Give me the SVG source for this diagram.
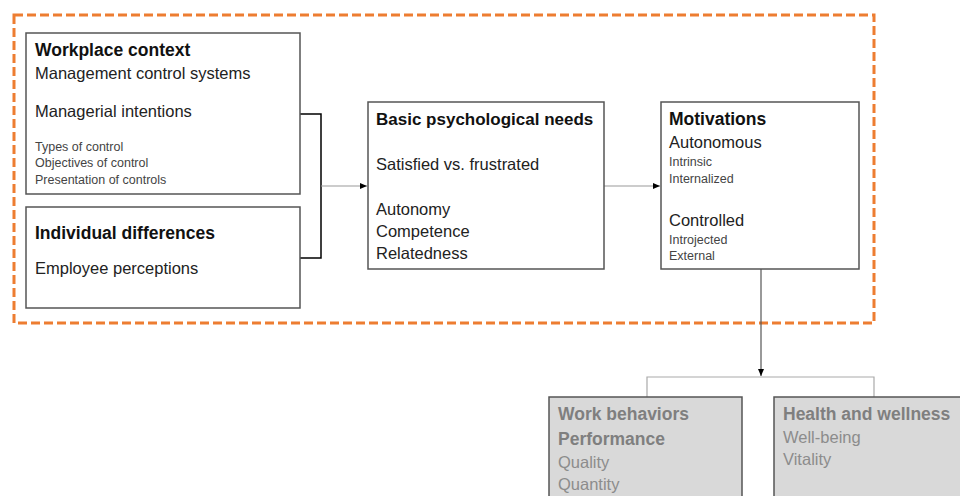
<svg xmlns="http://www.w3.org/2000/svg" width="960" height="496" viewBox="0 0 960 496">
<defs>
<marker id="ah" markerWidth="8" markerHeight="8" refX="7" refY="4" orient="auto" markerUnits="userSpaceOnUse">
<path d="M0,1 L7,4 L0,7 Z" fill="#000"/>
</marker>
<style>
text{font-family:"Liberation Sans",Arial,sans-serif;}
.box{fill:#fff;stroke:#555;stroke-width:1.5;}
.gbox{fill:#d9d9d9;stroke:#555;stroke-width:1.5;}
.h{font-size:17.5px;font-weight:bold;fill:#111;}
.m{font-size:16.5px;fill:#222;}
.s{font-size:12.5px;fill:#444;}
.gh{font-size:17.5px;font-weight:bold;fill:#7f7f7f;}
.gm{font-size:16.5px;fill:#8c8c8c;}
</style>
</defs>
<rect x="14" y="15" width="860" height="308" fill="none" stroke="#ed7d31" stroke-width="3" stroke-dasharray="9,4"/>
<g id="connectors" fill="none">
<polyline points="300,114 321,114 321,258 300,258" stroke="#000" stroke-width="1.5"/>
<line x1="321" y1="186" x2="367" y2="186" stroke="#999" stroke-width="1.2" marker-end="url(#ah)"/>
<line x1="604" y1="186" x2="660" y2="186" stroke="#999" stroke-width="1.2" marker-end="url(#ah)"/>
<line x1="761" y1="269" x2="761" y2="376" stroke="#555" stroke-width="1.2" marker-end="url(#ah)"/>
<polyline points="647,397 647,377 874,377 874,397" stroke="#aaa" stroke-width="1.2"/>
</g>
<g id="workplace">
<rect class="box" x="26" y="33" width="274" height="161"/>
<text class="h" x="35" y="56">Workplace context</text>
<text class="m" x="35" y="79">Management control systems</text>
<text class="m" x="35" y="117">Managerial intentions</text>
<text class="s" x="35" y="151">Types of control</text>
<text class="s" x="35" y="167">Objectives of control</text>
<text class="s" x="35" y="184">Presentation of controls</text>
</g>
<g id="individual">
<rect class="box" x="26" y="207" width="274" height="101"/>
<text class="h" x="35" y="239">Individual differences</text>
<text class="m" x="35" y="274">Employee perceptions</text>
</g>
<g id="needs">
<rect class="box" x="368" y="102" width="236" height="167"/>
<text class="h" x="376" y="125" style="font-size:17px">Basic psychological needs</text>
<text class="m" x="376" y="170">Satisfied vs. frustrated</text>
<text class="m" x="376" y="215">Autonomy</text>
<text class="m" x="376" y="237">Competence</text>
<text class="m" x="376" y="259">Relatedness</text>
</g>
<g id="motivations">
<rect class="box" x="661" y="102" width="198" height="167"/>
<text class="h" x="669" y="125">Motivations</text>
<text class="m" x="669" y="148">Autonomous</text>
<text class="s" x="669" y="166">Intrinsic</text>
<text class="s" x="669" y="183">Internalized</text>
<text class="m" x="669" y="226">Controlled</text>
<text class="s" x="669" y="244">Introjected</text>
<text class="s" x="669" y="260">External</text>
</g>
<g id="work">
<rect class="gbox" x="549" y="397" width="193" height="110"/>
<text class="gh" x="558" y="420">Work behaviors</text>
<text class="gh" x="558" y="445">Performance</text>
<text class="gm" x="558" y="468">Quality</text>
<text class="gm" x="558" y="490">Quantity</text>
</g>
<g id="health">
<rect class="gbox" x="774" y="397" width="200" height="110"/>
<text class="gh" x="783" y="420">Health and wellness</text>
<text class="gm" x="783" y="443">Well-being</text>
<text class="gm" x="783" y="465">Vitality</text>
</g>
</svg>
